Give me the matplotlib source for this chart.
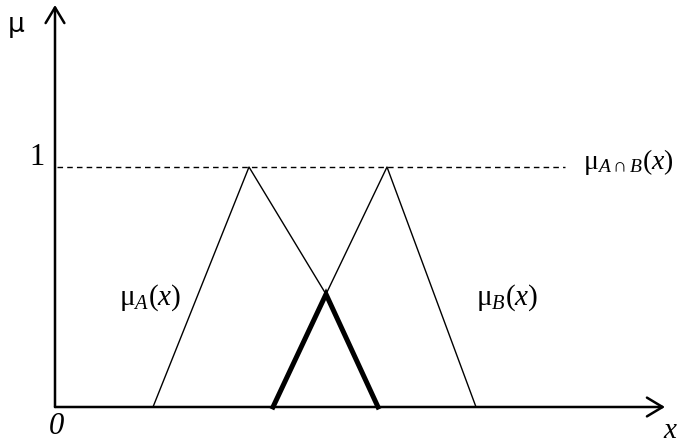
import matplotlib
matplotlib.use('Agg')
import matplotlib.pyplot as plt

plt.rcParams['font.family'] = ['Liberation Serif', 'DejaVu Serif']
plt.rcParams['mathtext.fontset'] = 'custom'
plt.rcParams['mathtext.rm'] = 'Liberation Serif'
plt.rcParams['mathtext.it'] = 'Liberation Serif:italic'

# membership functions (x in arbitrary units, mu in [0, 1])
mu_a_x = [0.98, 1.94, 2.71]
mu_a_y = [0.0, 1.0, 0.47]
mu_b_x = [2.71, 3.32, 4.21]
mu_b_y = [0.47, 1.0, 0.0]
# intersection A∩B (thick)
inter_x = [2.18, 2.71, 3.23]
inter_y = [0.0, 0.47, 0.0]

x_end = 6.1
mu_end = 1.675
dash_end = 5.1

fig = plt.figure(figsize=(6.8, 4.44), dpi=100)
ax = fig.add_axes([0, 0, 1, 1])
ax.set_xlim(-0.55, 6.25)
ax.set_ylim(-37 / 240, 407 / 240)
ax.axis('off')

# axes with open arrowheads
arrow = dict(arrowstyle='->,head_length=0.75,head_width=0.45', lw=1.8,
             color='black', mutation_scale=15, shrinkA=0, shrinkB=0)
ax.annotate('', xy=(x_end, 0), xytext=(0, 0), arrowprops=arrow)
ax.annotate('', xy=(0, mu_end), xytext=(0, 0), arrowprops=arrow)

# level 1 dashed line
ax.plot([0.02, dash_end], [1, 1], color='black', lw=1.0, ls=(0, (4, 3)))

ax.plot(mu_a_x, mu_a_y, color='black', lw=1.0)
ax.plot(mu_b_x, mu_b_y, color='black', lw=1.0)
ax.plot(inter_x, inter_y, color='black', lw=3.6, solid_joinstyle='miter')

fs = 21
ax.text(-0.39, 1.59, 'μ', fontsize=19, ha='center', va='center', family='DejaVu Sans')
ax.text(-0.1, 1.04, '1', fontsize=22, ha='right', va='center')
ax.text(0.01, -0.08, '0', fontsize=22, ha='center', va='center', style='italic')
ax.text(6.15, -0.1, 'x', fontsize=21, ha='center', va='center', style='italic')
ax.text(0.95, 0.455, r'$\mathrm{\mu}_{A}(x)$', fontsize=fs, ha='center', va='center')
ax.text(4.52, 0.455, r'$\mathrm{\mu}_{B}(x)$', fontsize=fs, ha='center', va='center')
ax.text(5.28, 1.02, r'$\mathrm{\mu}_{A\cap B}(x)$', fontsize=20, ha='left', va='center')

fig.savefig('out.png', dpi=100)
